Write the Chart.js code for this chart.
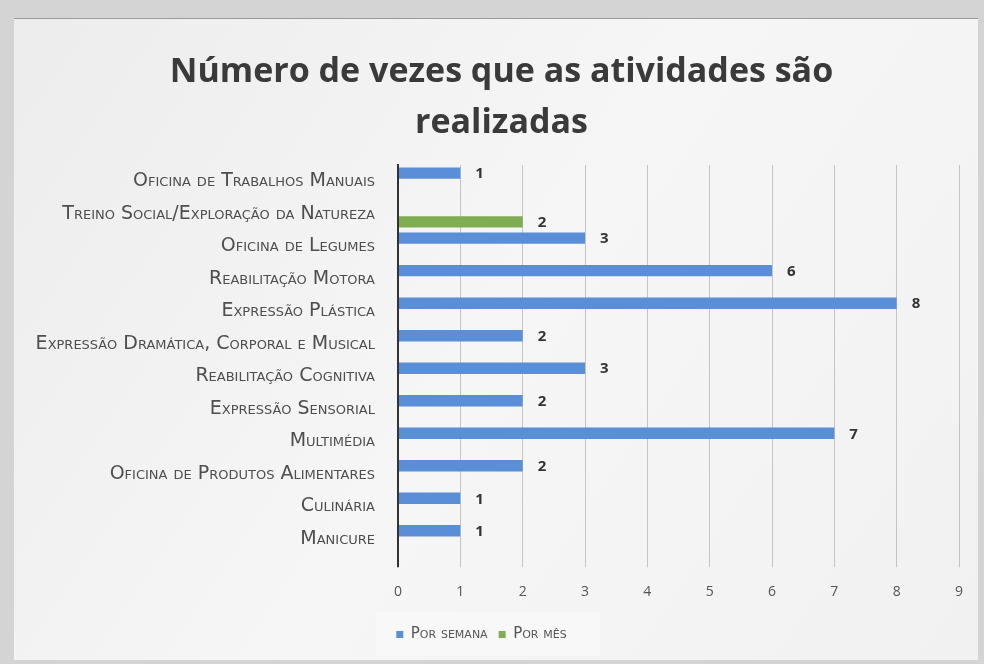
<!DOCTYPE html>
<html>
<head>
<meta charset="utf-8">
<script src="https://cdn.jsdelivr.net/npm/chart.js@4"></script>
<style>
  html, body { margin: 0; padding: 0; background: #dedede; }
  #wrap { width: 984px; height: 664px; position: relative; }
</style>
</head>
<body>
<div id="wrap"><canvas id="c" width="984" height="664"></canvas></div>
<script>
const categories = [
  'Oficina de Trabalhos Manuais',
  'Treino Social/Exploração da Natureza',
  'Oficina de Legumes',
  'Reabilitação Motora',
  'Expressão Plástica',
  'Expressão Dramática, Corporal e Musical',
  'Reabilitação Cognitiva',
  'Expressão Sensorial',
  'Multimédia',
  'Oficina de Produtos Alimentares',
  'Culinária',
  'Manicure'
];
const porSemana = [1, null, 3, 6, 8, 2, 3, 2, 7, 2, 1, 1];
const porMes    = [null, 2, null, null, null, null, null, null, null, null, null, null];
const seriesNames = ['Por semana', 'Por mês'];
const titleLines = ['Número de vezes que as atividades são', 'realizadas'];
const xMin = 0, xMax = 9, xStep = 1;

const paperPlugin = {
  id: 'paper',
  beforeDraw(chart) {
    const ctx = chart.ctx;
    ctx.save();
    ctx.fillStyle = '#d4d4d4';
    ctx.fillRect(0, 0, chart.width, chart.height);
    const g = ctx.createLinearGradient(0, 0, chart.width, chart.height);
    g.addColorStop(0, '#ececec');
    g.addColorStop(0.5, '#f6f6f6');
    g.addColorStop(1, '#f1f1f1');
    ctx.fillStyle = g;
    ctx.fillRect(14, 18, chart.width - 20, chart.height - 22);
    ctx.strokeStyle = '#9a9a9a';
    ctx.lineWidth = 1;
    ctx.beginPath();
    ctx.moveTo(14, 18.5); ctx.lineTo(chart.width - 6, 18.5);
    ctx.stroke();
    ctx.fillStyle = 'rgba(255,255,255,0.35)';
    ctx.fillRect(376, 612, 224, 44);
    ctx.restore();
    // nudge title and legend to where the reference has them
    if (chart.legend && !chart.legend._nudged) {
      chart.legend.left -= 8;
      chart.legend.right -= 8;
      chart.legend._nudged = true;
    }
    if (chart.titleBlock && !chart.titleBlock._nudged) {
      chart.titleBlock.left += 12;
      chart.titleBlock.right += 12;
      chart.titleBlock._nudged = true;
    }
  }
};

const valueLabels = {
  id: 'valueLabels',
  afterDatasetsDraw(chart) {
    const ctx = chart.ctx;
    ctx.save();
    ctx.font = 'bold 15px "Open Sans", sans-serif';
    ctx.fillStyle = '#333333';
    ctx.textAlign = 'left';
    ctx.textBaseline = 'middle';
    chart.data.datasets.forEach((ds, i) => {
      const meta = chart.getDatasetMeta(i);
      meta.data.forEach((el, j) => {
        const v = ds.data[j];
        if (v === null || v === undefined) return;
        ctx.fillText(String(v), el.x + 15, el.y + 1);
      });
    });
    ctx.restore();
  }
};

new Chart(document.getElementById('c'), {
  type: 'bar',
  data: {
    labels: categories,
    datasets: [
      { label: seriesNames[0], data: porSemana, backgroundColor: '#5a8ed6' },
      { label: seriesNames[1], data: porMes, backgroundColor: '#7fad52' }
    ]
  },
  options: {
    indexAxis: 'y',
    responsive: false,
    animation: false,
    devicePixelRatio: 1,
    categoryPercentage: 1.0,
    barPercentage: 0.7,
    layout: { padding: { left: 20, right: 25, top: 0, bottom: 12 } },
    plugins: {
      title: {
        display: true,
        text: titleLines,
        color: '#3a3a3a',
        font: { family: '"Open Sans", sans-serif', size: 34, weight: 'bold', lineHeight: 1.5 },
        padding: { top: 47, bottom: 16 }
      },
      legend: {
        display: true,
        position: 'bottom',
        labels: {
          color: '#555555',
          font: { family: '"DejaVu Sans", sans-serif', size: 15, weight: 'small-caps' },
          boxWidth: 7,
          boxHeight: 7,
          padding: 11
        }
      },
      tooltip: { enabled: false }
    },
    scales: {
      x: {
        min: xMin,
        max: xMax,
        ticks: { stepSize: xStep, color: '#555555', padding: 16, font: { family: '"Open Sans", sans-serif', size: 14 } },
        grid: {
          color: (c) => (c.tick && c.tick.value === 0 ? '#333333' : '#c4c4c4'),
          lineWidth: (c) => (c.tick && c.tick.value === 0 ? 2 : 1),
          drawTicks: true,
          tickLength: 12
        },
        border: { display: false }
      },
      y: {
        afterFit(scale) { scale.width = 378; },
        ticks: {
          color: '#4e4e4e',
          padding: 15,
          autoSkip: false,
          font: { family: '"DejaVu Sans", sans-serif', size: 19, weight: 'small-caps' }
        },
        grid: { display: false },
        border: { display: true, color: '#333333', width: 2 }
      }
    }
  },
  plugins: [paperPlugin, valueLabels]
});
</script>
</body>
</html>
